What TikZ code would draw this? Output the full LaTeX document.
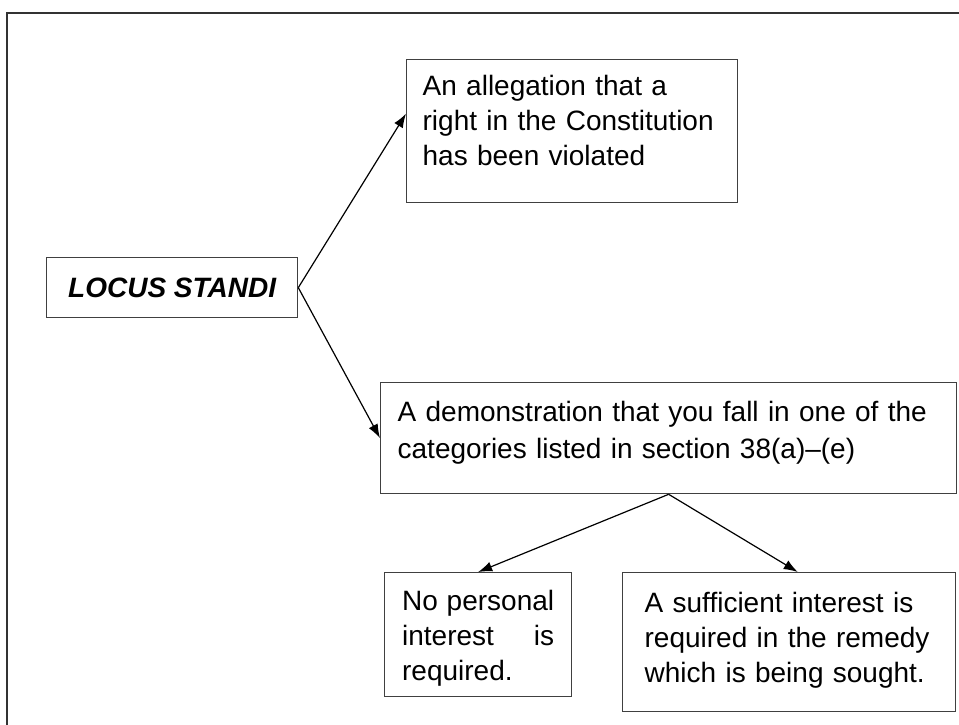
\documentclass[tikz,border=0pt]{standalone}
\usepackage{fontspec}
\setmainfont{Liberation Sans}
\usetikzlibrary{arrows.meta}

\begin{document}
\begin{tikzpicture}[x=1pt,y=-1pt]
  \tikzstyle{boite}=[draw=black!75, line width=1.3pt, rectangle, anchor=north west,
  inner ysep=0pt, align=left, font=\fontsize{28}{35}\selectfont]
  \tikzstyle{fleche}=[-{Latex[length=14pt,width=10pt]}, line width=1.2pt]
  \useasboundingbox (0,0) rectangle (959,725);
  \draw[line width=1.8pt, black!80] (7,13) rectangle (975,740);
  \node[boite, minimum width=251pt, minimum height=60pt, inner sep=0pt, align=center,
  text height=20pt, text depth=0pt, font=\fontsize{28}{35}\selectfont\bfseries\itshape]
  (locus) at (46,257) {LOCUS STANDI};
  \node[boite, inner xsep=16pt, text width=299pt, text height=36pt, text depth=107pt]
  (allegation) at (406,59) {An allegation that a right in the Constitution has been violated};
  \node[boite, inner xsep=17pt, text width=542pt, text height=39pt, text depth=72pt,
  font=\fontsize{28}{37}\selectfont]
  (demo) at (380,382) {A demonstration that you fall in one of the categories listed in section 38(a)--(e)};
  \node[boite, inner xsep=17.5pt, text width=152pt, text height=38pt, text depth=86pt, align=justify]
  (nointerest) at (384,572) {No personal interest is required.};
  \node[boite, inner xsep=22pt, text width=289pt, text height=40pt, text depth=99pt]
  (interest) at (622,572) {A sufficient interest is required in the remedy which is being sought.};
  \foreach \a/\b in {locus.east/allegation.174, locus.east/demo.west,
    demo.south/nointerest.north, demo.south/interest.83} {
    \draw[fleche] (\a) -- (\b);
  }
\end{tikzpicture}
\end{document}
